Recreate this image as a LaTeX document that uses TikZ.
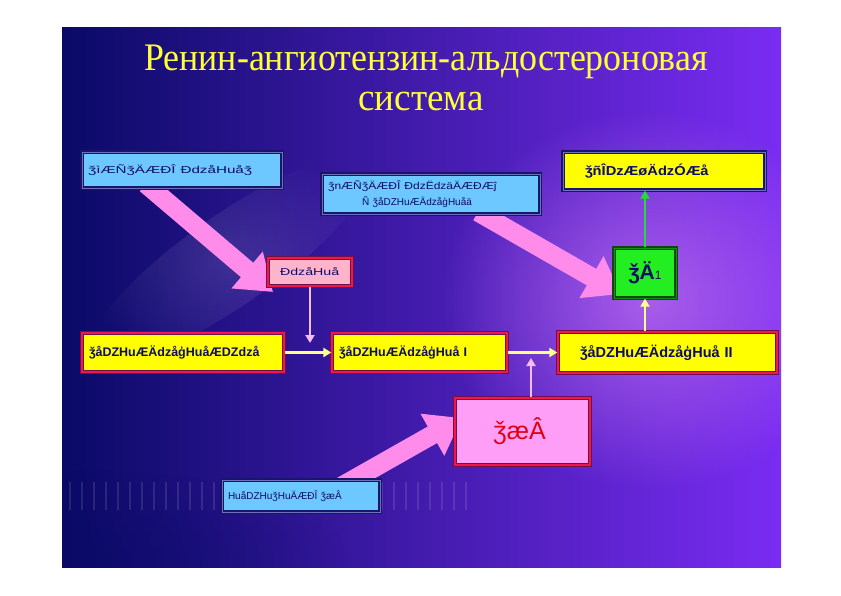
\documentclass[tikz,border=0pt]{standalone}
\usepackage{fontspec}
\setmainfont{Liberation Sans}
\newfontfamily\titlefont{Liberation Serif}
\usetikzlibrary{arrows.meta,fadings}
\definecolor{bgnavy}{HTML}{0A0A66}
\definecolor{bgblue}{HTML}{1A16F0}
\definecolor{bgpurple}{HTML}{7A2CF2}
\definecolor{glowpink}{HTML}{C070F0}
\definecolor{skyb}{HTML}{6CC8FF}
\definecolor{boxnavy}{HTML}{16166A}
\definecolor{boxgray}{HTML}{7070B8}
\definecolor{txtnavy}{HTML}{0C0C66}
\definecolor{ylw}{HTML}{FFFF00}
\definecolor{redfr}{HTML}{F01848}
\definecolor{darkfr}{HTML}{70104A}
\definecolor{pinkbox}{HTML}{FFB4CC}
\definecolor{pinkbig}{HTML}{FF9EF6}
\definecolor{grn}{HTML}{22EE22}
\definecolor{darkgrn}{HTML}{0A4A0A}
\definecolor{bigarrow}{HTML}{FF8CEA}
\definecolor{palepink}{HTML}{F4BCF0}
\definecolor{paleylw}{HTML}{FFFF90}
\definecolor{arrgreen}{HTML}{22DD33}
\definecolor{titleylw}{HTML}{FFFF3A}
\definecolor{redtxt}{HTML}{E00010}
\newcommand{\hsq}[2]{\scalebox{#1}[1]{#2}}
\tikzfading[name=glowfade, inner color=transparent!0, outer color=transparent!100]
\tikzset{
  bluebox/.style={draw=boxnavy, double=boxgray, double distance=1pt, line width=1.3pt,
    fill=skyb, text=txtnavy, font=\fontsize{10}{13}\selectfont, align=left, inner ysep=0pt},
  ylwboxn/.style={draw=boxnavy, double=boxgray, double distance=1pt, line width=1.3pt,
    fill=ylw, text=txtnavy, font=\bfseries\fontsize{13}{14}\selectfont, inner ysep=0pt},
  ylwboxr/.style={draw=darkfr, double=redfr, double distance=1.6pt, line width=1.3pt,
    fill=ylw, text=txtnavy, font=\bfseries\fontsize{12.5}{14}\selectfont, inner ysep=0pt},
  pinkboxs/.style={draw=darkfr, double=redfr, double distance=1.6pt, line width=1.3pt,
    fill=pinkbox, text=txtnavy, font=\fontsize{10}{12}\selectfont, inner ysep=0pt},
  pinkboxb/.style={draw=darkfr, double=redfr, double distance=1.6pt, line width=1.3pt,
    fill=pinkbig, text=redtxt, font=\fontsize{25}{28}\selectfont, inner ysep=0pt},
  grnbox/.style={draw=darkgrn, double=grn!60!black, double distance=1pt, line width=1.3pt,
    fill=grn, text=txtnavy, font=\bfseries\fontsize{21}{24}\selectfont, inner ysep=0pt},
  bigarr/.style={draw=bigarrow, line width=19pt, -{Triangle[width=46pt,length=34pt]}},
  thinarr/.style={line width=2.2pt, -{Triangle[width=9pt,length=8pt]}},
  titletext/.style={text=titleylw, font=\titlefont\fontsize{39}{40}\selectfont, inner sep=0pt, anchor=base}
}
\begin{document}
\begin{tikzpicture}[x=1pt,y=-1pt]
\useasboundingbox (0,0) rectangle (841,595);
\fill[white] (0,0) rectangle (841,595);
% slide background
\shade[left color=bgnavy, middle color=bgblue, right color=bgpurple] (62,27) rectangle (781,567);
\begin{scope}
\clip (62,27) rectangle (781,567);
\fill[glowpink, path fading=glowfade, fill opacity=0.75] (650,300) ellipse (210 and 190);
\fill[bgnavy, path fading=glowfade, fill opacity=0.5] (90,560) ellipse (260 and 90);
\fill[white, path fading=glowfade, fill opacity=0.12, rotate around={35:(230,260)}] (230,260) ellipse (170 and 45);
\foreach \x in {70,82,...,470} {\draw[white, opacity=0.11, line width=1.6pt] (\x,482) -- (\x,510);}
\end{scope}

% title
\node[titletext] (title1) at (426,70) {\hsq{0.92}{Ренин-ангиотензин-альдостероновая}};
\node[titletext] (title2) at (421,110) {\hsq{0.95}{система}};

% coordinates for big arrows
\coordinate (p1s) at (146,184);
\coordinate (p1e) at (273,292);
\coordinate (p2s) at (478,212);
\coordinate (p2e) at (621,294);
\coordinate (p3s) at (342,486);
\coordinate (p3e) at (462,418);

\draw[bigarr] (p1s) -- (p1e);
\draw[bigarr] (p2s) -- (p2e);
\draw[bigarr] (p3s) -- (p3e);

% boxes
\node[bluebox, minimum width=200pt, minimum height=36pt, text width=188pt] (b1) at (182,170) {\hsq{1.52}{ǯìÆÑǯÄÆÐÎ ÐdzåHuåǯ}};
\node[bluebox, minimum width=218pt, minimum height=40pt, text width=206pt, font=\fontsize{10}{16}\selectfont] (b2) at (431,194) {\hsq{1.2}{ǯnÆÑǯÄÆÐÎ ÐdzËdzäÄÆÐÆĵ}\\\hspace*{34pt}Ñ ǯåDZHuÆÄdzåģHuåä};
\node[ylwboxn, minimum width=202pt, minimum height=38pt, text width=176pt, align=left] (b3) at (664,171) {\hspace*{9pt}\hsq{1.13}{ǯñÎDzÆøÄdzÓÆå}};
\node[pinkboxs, minimum width=84pt, minimum height=28pt, text width=66pt, align=left] (b4) at (310,272) {\hspace*{3pt}\hsq{1.42}{ÐdzåHuå}};
\node[grnbox, minimum width=62pt, minimum height=50pt] (b5) at (645,273) {ǯÄ{\mdseries\fontsize{12}{12}\selectfont 1}};
\node[ylwboxr, minimum width=202pt, minimum height=39pt, text width=188pt, align=left] (b6) at (183,352.5) {ǯåDZHuÆÄdzåģHuåÆDZdzå};
\node[ylwboxr, minimum width=175pt, minimum height=39pt, text width=161pt, align=left] (b7) at (419.5,352.5) {ǯåDZHuÆÄdzåģHuå I};
\node[ylwboxr, minimum width=219pt, minimum height=41pt, text width=205pt, align=left, font=\bfseries\fontsize{14.5}{16}\selectfont] (b8) at (667.5,352.5) {\hspace*{15pt}ǯåDZHuÆÄdzåģHuå II};
\node[pinkboxb, minimum width=135pt, minimum height=67pt] (b9) at (522.5,431.5) {\hspace*{-6pt}ǯæÂ};
\node[bluebox, minimum width=158pt, minimum height=32pt, text width=146pt] (b10) at (301,496) {HuåDZHuǯHuÄÆÐÎ ǯæÂ};

% junction coordinates
\coordinate (j1) at (310,343);
\coordinate (j2) at (531,358);

% thin connectors
\draw[thinarr, palepink] (b4.south) -- (j1);
\draw[thinarr, paleylw, line width=3pt] (b6.east) -- (b7.west);
\draw[thinarr, paleylw, line width=3pt] (b7.east) -- (b8.west);
\draw[thinarr, palepink] (b9.north -| j2) -- (j2);
\draw[thinarr, paleylw] (b8.north -| b5.south) -- (b5.south);
\draw[thinarr, arrgreen, line width=2.6pt] (b5.north) -- (b3.south -| b5.north);
\end{tikzpicture}
\end{document}
